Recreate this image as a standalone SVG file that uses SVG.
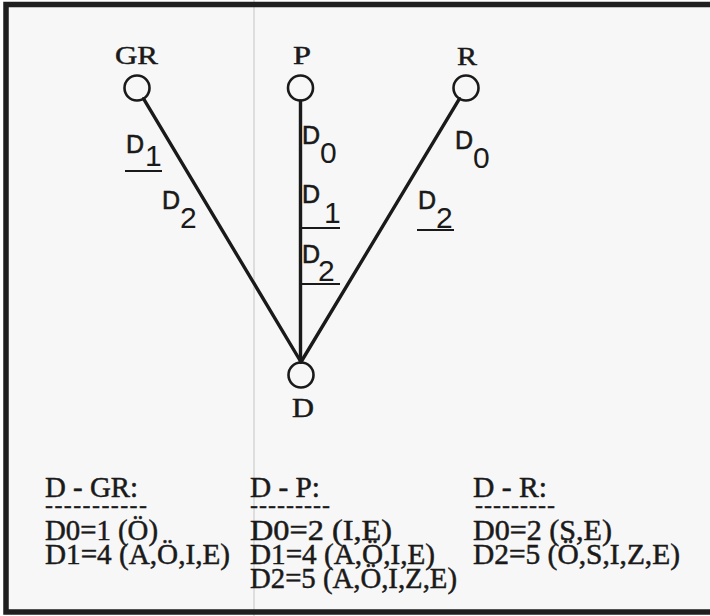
<svg xmlns="http://www.w3.org/2000/svg" width="710" height="616" viewBox="0 0 710 616">
<style>
.node circle{fill:none;stroke:#1a1a1a;stroke-width:2.6}
.conn line{stroke:#1a1a1a;stroke-width:3.4;stroke-linecap:round}
.ul{stroke:#1a1a1a;stroke-width:2.2}
</style>
<rect x="0" y="0" width="710" height="616" fill="#ffffff"/>
<rect x="6" y="5" width="704" height="606" fill="#f7f7f7"/>
<line x1="254" y1="0" x2="254" y2="616" stroke="#c4c4c4" stroke-width="1"/>
<path d="M710 4.5 H6 V612 H710" fill="none" stroke="#1f1f1f" stroke-width="5.5"/>

<g id="connectors" class="conn">
<line x1="143.5" y1="98.7" x2="301" y2="362"/>
<line x1="300.5" y1="101" x2="300.5" y2="362"/>
<line x1="459.5" y1="98.7" x2="301" y2="362"/>
</g>

<g font-family="'Liberation Serif', 'DejaVu Serif', serif" font-size="26" fill="#1a1a1a" stroke="#1a1a1a" stroke-width="0.5" text-anchor="middle">
<g id="node-GR" class="node">
<circle cx="137" cy="88" r="12.5"/>
<text x="136.5" y="64" textLength="43" lengthAdjust="spacingAndGlyphs">GR</text>
</g>
<g id="node-P" class="node">
<circle cx="300.5" cy="88" r="12.5"/>
<text x="302" y="64" textLength="18" lengthAdjust="spacingAndGlyphs">P</text>
</g>
<g id="node-R" class="node">
<circle cx="466" cy="88" r="12.5"/>
<text x="467" y="65" textLength="20" lengthAdjust="spacingAndGlyphs">R</text>
</g>
<g id="node-D" class="node">
<circle cx="301" cy="375" r="12.5"/>
<text x="303" y="417" font-size="28" textLength="22" lengthAdjust="spacingAndGlyphs">D</text>
</g>
</g>

<g id="edge-labels" font-family="'Liberation Sans', Arial, sans-serif" fill="#1a1a1a">
<g font-size="25" stroke="#1a1a1a" stroke-width="0.6">
<text x="126" y="153">D</text>
<text x="162" y="209">D</text>
<text x="302" y="144">D</text>
<text x="302" y="203">D</text>
<text x="302" y="263">D</text>
<text x="455" y="149">D</text>
<text x="418" y="209">D</text>
</g>
<g font-size="30">
<text x="145" y="166">1</text>
<text x="180" y="228">2</text>
<text x="320" y="163">0</text>
<text x="324" y="223">1</text>
<text x="318" y="281">2</text>
<text x="473" y="168">0</text>
<text x="436" y="228">2</text>
</g>
<line class="ul" x1="125" y1="171" x2="162" y2="171"/>
<line class="ul" x1="300" y1="228" x2="340" y2="228"/>
<line class="ul" x1="300" y1="284" x2="340" y2="284"/>
<line class="ul" x1="417" y1="230" x2="454" y2="230"/>
</g>

<g font-family="'Liberation Serif', 'DejaVu Serif', serif" font-size="29" fill="#1a1a1a" stroke="#1a1a1a" stroke-width="0.5">
<g id="table-GR">
<text x="45" y="497" textLength="93" lengthAdjust="spacingAndGlyphs">D - GR:</text>
<text x="45" y="513" font-size="24" stroke-width="0.3" textLength="102" lengthAdjust="spacing">-----------</text>
<text x="45" y="540" textLength="113" lengthAdjust="spacingAndGlyphs">D0=1 (Ö)</text>
<text x="45" y="564" textLength="185" lengthAdjust="spacingAndGlyphs">D1=4 (A,Ö,I,E)</text>
</g>
<g id="table-P">
<text x="250" y="497" textLength="70" lengthAdjust="spacingAndGlyphs">D - P:</text>
<text x="250" y="513" font-size="24" stroke-width="0.3" textLength="80" lengthAdjust="spacing">---------</text>
<text x="250" y="540" textLength="142" lengthAdjust="spacingAndGlyphs">D0=2 (I,E)</text>
<text x="250" y="564" textLength="185" lengthAdjust="spacingAndGlyphs">D1=4 (A,Ö,I,E)</text>
<text x="250" y="588" textLength="207" lengthAdjust="spacingAndGlyphs">D2=5 (A,Ö,I,Z,E)</text>
</g>
<g id="table-R">
<text x="473" y="497" textLength="74" lengthAdjust="spacingAndGlyphs">D - R:</text>
<text x="475" y="513" font-size="24" stroke-width="0.3" textLength="80" lengthAdjust="spacing">---------</text>
<text x="473" y="540" textLength="139" lengthAdjust="spacingAndGlyphs">D0=2 (S,E)</text>
<text x="473" y="564" textLength="207" lengthAdjust="spacingAndGlyphs">D2=5 (Ö,S,I,Z,E)</text>
</g>
</g>
</svg>
